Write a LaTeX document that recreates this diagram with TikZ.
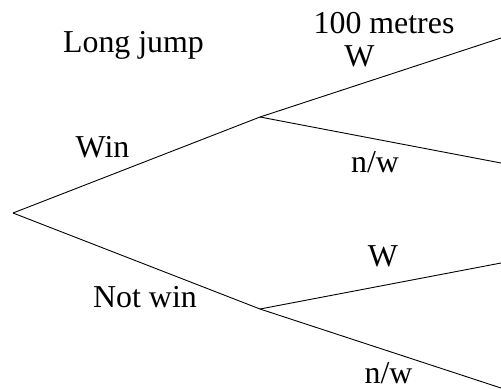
\documentclass[tikz,border=0pt]{standalone}
\usepackage{fontspec}
\setmainfont{Liberation Serif}
\begin{document}
\begin{tikzpicture}[x=1bp,y=-1bp,
  branch/.style={line width=0.9bp, black},
  lbl/.style={anchor=base, inner sep=0pt, font=\fontsize{32}{38}\selectfont}]
\useasboundingbox (0,0) rectangle (501,389);
% points
\coordinate (root) at (13,213);
\coordinate (up) at (260,117);
\coordinate (lo) at (260,309);
\coordinate (uw) at (501,38);
\coordinate (un) at (501,163);
\coordinate (lw) at (501,263);
\coordinate (ln) at (501,388);
% branches
\draw[branch] (root) -- (up) -- (uw);
\draw[branch] (up) -- (un);
\draw[branch] (root) -- (lo) -- (lw);
\draw[branch] (lo) -- (ln);
% labels
\node[lbl] (t1) at (133.5,52) {Long jump};
\node[lbl] (t2) at (384,33) {100 metres};
\node[lbl] (t3) at (359.5,66) {W};
\node[lbl] (t4) at (375,172) {n/w};
\node[lbl] (t5) at (102.5,157) {Win};
\node[lbl] (t6) at (145,307) {Not win};
\node[lbl] (t7) at (383,266) {W};
\node[lbl] (t8) at (388.5,383.5) {n/w};
\end{tikzpicture}
\end{document}
